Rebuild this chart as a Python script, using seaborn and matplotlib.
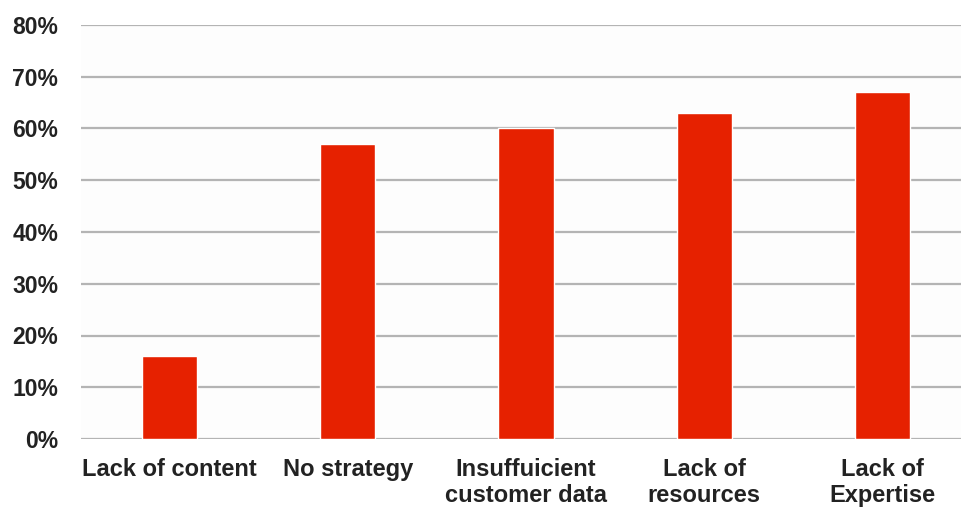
import matplotlib
matplotlib.use("Agg")
import matplotlib.pyplot as plt
import seaborn as sns
import pandas as pd
from matplotlib.ticker import PercentFormatter

categories = ["Lack of content", "No strategy", "Insuffuicient\ncustomer data",
              "Lack of\nresources", "Lack of\nExpertise"]
values = [16, 57, 60, 63, 67]
yticks = [0, 10, 20, 30, 40, 50, 60, 70, 80]

df = pd.DataFrame({"category": categories, "value": values})

sns.set_theme(style="white")
plt.rcParams['font.family'] = ['Liberation Sans', 'DejaVu Sans']

fig = plt.figure(figsize=(9.61, 5.08), dpi=100)
fig.patch.set_facecolor("white")
ax = fig.add_axes([80.5/961, 1-439/508, 891/961, (439-25)/508])
ax.set_facecolor("#fdfdfd")

sns.barplot(data=df, x="category", y="value", color="#e62100", width=0.31,
            saturation=1, ax=ax, zorder=3)

ax.set_ylim(0, 80)
ax.set_yticks(yticks)
ax.yaxis.set_major_formatter(PercentFormatter(decimals=0))
ax.grid(axis="y", color="#b4b4b4", linewidth=1.6, zorder=0)
ax.set_axisbelow(True)
for s in ax.spines.values():
    s.set_visible(False)
ax.set_xlabel("")
ax.set_ylabel("")
ax.tick_params(axis="both", length=0, labelcolor="#222222")
ax.tick_params(axis="x", pad=13.5, labelsize=17)
ax.tick_params(axis="y", pad=16, labelsize=16.5)
for lab in ax.get_xticklabels() + ax.get_yticklabels():
    lab.set_fontweight("bold")
for lab in ax.get_xticklabels():
    lab.set_linespacing(1.2)

fig.savefig("out.png", dpi=100)
